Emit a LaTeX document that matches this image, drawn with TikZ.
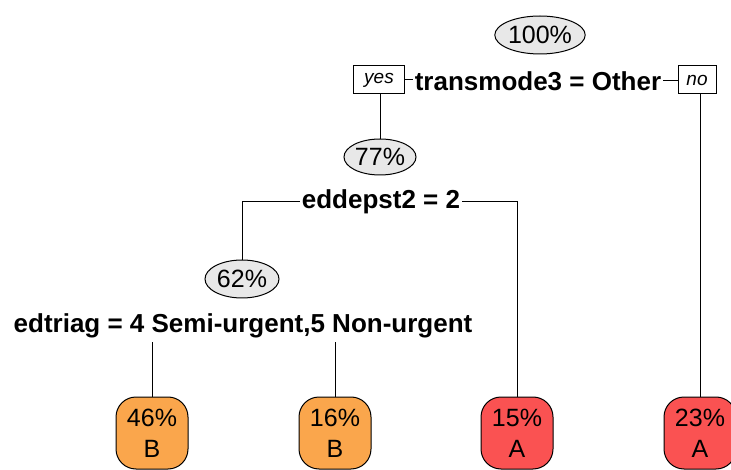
\documentclass[tikz,border=0pt]{standalone}
\usepackage{fontspec}
\setmainfont{Liberation Sans}
\usetikzlibrary{shapes.geometric}
\definecolor{leafB}{RGB}{250,166,76}
\definecolor{leafA}{RGB}{250,82,82}
\definecolor{ellfill}{RGB}{232,232,232}
\begin{document}
\begin{tikzpicture}[x=1pt,y=-1pt,
  every node/.style={inner sep=0pt, outer sep=0pt},
  pct/.style={ellipse, draw=black, line width=1pt, fill=ellfill, font=\fontsize{25}{28}\selectfont},
  split/.style={font=\fontsize{26}{30}\selectfont\bfseries, inner xsep=2pt},
  tag/.style={draw=black, line width=1pt, fill=white, font=\fontsize{19}{22}\selectfont\itshape, minimum height=28pt, inner xsep=4pt},
  leaf/.style={draw=black, line width=1pt, rounded corners=20pt, minimum width=72pt, minimum height=72pt, align=center, font=\fontsize{25}{31}\selectfont},
  conn/.style={draw=black, line width=1pt}]
\useasboundingbox (0,0) rectangle (731,470);
% root
\node[pct, minimum width=90pt, minimum height=38pt] (e100) at (540,35) {100\%};
\node[split] (t1) at (538,81) {transmode3 = Other};
\node[tag, minimum width=51pt] (yes) at (379,80) {yes};
\node[tag, minimum width=38pt] (no) at (697,80) {no};
% level 2
\node[pct, minimum width=72pt, minimum height=36pt] (e77) at (380,157) {77\%};
\node[split] (t2) at (381,202) {eddepst2 = 2};
% level 3
\node[pct, minimum width=74pt, minimum height=38pt] (e62) at (242,279) {62\%};
\node[split] (t3) at (243,326) {edtriag = 4 Semi-urgent,5 Non-urgent};
% leaves
\node[leaf, fill=leafB] (l46) at (152,433) {46\%\\B};
\node[leaf, fill=leafB] (l16) at (335,433) {16\%\\B};
\node[leaf, fill=leafA] (l15) at (517,433) {15\%\\A};
\node[leaf, fill=leafA] (l23) at (700,433) {23\%\\A};
% connectors
\draw[conn] (yes.east) -- (yes.east -| t1.west);
\draw[conn] (t1.east) -- (t1.east -| no.west);
\draw[conn] (e77.north |- yes.south) -- (e77.north);
\draw[conn] (l23.north |- no.south) -- (l23.north);
\draw[conn] (t2.west) -| (e62.north);
\draw[conn] (t2.east) -| (l15.north);
\draw[conn] (l46.north |- t3.south) ++(0,4) -- (l46.north);
\draw[conn] (l16.north |- t3.south) ++(0,4) -- (l16.north);
\end{tikzpicture}
\end{document}
